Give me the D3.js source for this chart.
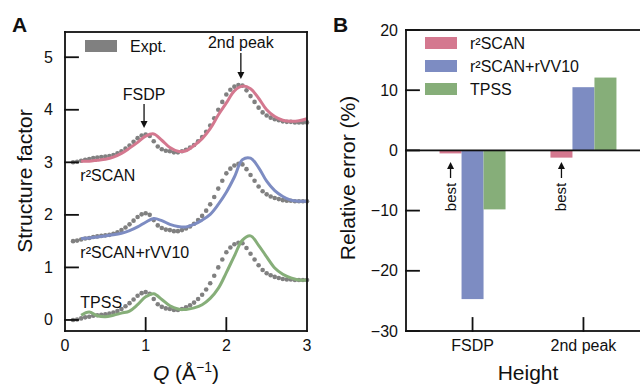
<!DOCTYPE html>
<html>
<head>
<meta charset="utf-8">
<script src="https://cdn.jsdelivr.net/npm/d3@7"></script>
</head>
<body style="margin:0">
<div id="chart"></div>
<script>
// panel A: structure factor S(Q), curves are shifted by offsets
var exptQ = [0.10,0.15,0.20,0.25,0.30,0.35,0.40,0.45,0.50,0.55,0.60,0.65,0.70,0.75,0.80,0.85,0.90,0.95,1.00,1.05,
  1.10,1.15,1.20,1.25,1.30,1.35,1.40,1.45,1.50,1.55,1.60,1.65,1.70,1.75,1.80,1.85,1.90,1.95,2.00,2.05,
  2.10,2.15,2.20,2.25,2.30,2.35,2.40,2.45,2.50,2.55,2.60,2.65,2.70,2.75,2.80,2.85,2.90,2.95,3.00];
var exptS = [0.00,0.01,0.03,0.05,0.06,0.08,0.09,0.10,0.11,0.12,0.14,0.17,0.21,0.26,0.32,0.39,0.46,0.51,0.53,0.50,
  0.40,0.30,0.25,0.22,0.21,0.19,0.19,0.21,0.24,0.28,0.33,0.40,0.48,0.58,0.70,0.84,1.00,1.15,1.29,1.38,
  1.44,1.47,1.46,1.37,1.26,1.15,1.04,0.95,0.89,0.85,0.82,0.80,0.78,0.77,0.77,0.76,0.76,0.76,0.76];

var modelQ = [0.2,0.3,0.4,0.5,0.6,0.7,0.8,0.9,1.0,1.1,1.2,1.3,1.4,1.5,1.6,1.7,1.8,1.9,2.0,2.1,2.2,2.3,2.4,2.5,2.6,2.7,2.8,2.9,3.0];
var r2scanS = [0.02,0.02,0.04,0.06,0.10,0.17,0.27,0.38,0.50,0.54,0.42,0.28,0.21,0.22,0.32,0.45,0.64,0.90,1.13,1.36,1.45,1.40,1.22,1.00,0.87,0.80,0.78,0.79,0.83];
var rvv10S = [0.05,0.06,0.08,0.10,0.12,0.15,0.20,0.27,0.36,0.43,0.39,0.32,0.28,0.27,0.32,0.40,0.51,0.70,0.93,1.22,1.55,1.58,1.40,1.14,0.96,0.85,0.78,0.76,0.76];
var tpssS = [0.09,0.15,0.08,0.06,0.09,0.13,0.17,0.29,0.44,0.50,0.39,0.27,0.21,0.20,0.23,0.29,0.41,0.60,0.90,1.22,1.52,1.60,1.42,1.20,0.99,0.87,0.80,0.76,0.76];

var methods = ['r\u00b2SCAN', 'r\u00b2SCAN+rVV10', 'TPSS'];
var offsets = [3, 1.5, 0];
var colors = ['#d4788f', '#7d8cc2', '#86ae79'];

// panel B: relative error of peak heights (%)
var heightCats = ['FSDP', '2nd peak'];
var errR2scan = [-0.5, -1.2];
var errRvv10 = [-24.7, 10.5];
var errTpss = [-9.8, 12.1];

var ink = '#111';
var font = 'Liberation Sans, Arial, sans-serif';

var svg = d3.select('#chart').append('svg')
  .attr('width', 640)
  .attr('height', 386)
  .attr('font-family', font);

// axis-aligned rules drawn as thin filled rects
function rule(x1, y1, x2, y2, w) {
  w = w || 1.8;
  var x = Math.min(x1, x2), y = Math.min(y1, y2);
  var horiz = y1 === y2;
  svg.append('rect')
    .attr('x', horiz ? x - w / 2 : x - w / 2)
    .attr('y', horiz ? y - w / 2 : y - w / 2)
    .attr('width', horiz ? Math.abs(x2 - x1) + w : w)
    .attr('height', horiz ? w : Math.abs(y2 - y1) + w)
    .attr('fill', ink);
}

// vertical arrow with a small filled head at (x, yTip)
function arrow(x, yFrom, yTip) {
  var dir = yTip > yFrom ? 1 : -1;
  svg.append('path')
    .attr('d', 'M' + x + ',' + yFrom + 'L' + x + ',' + (yTip - dir * 5))
    .attr('stroke', ink)
    .attr('stroke-width', 1.3);
  svg.append('path')
    .attr('d', 'M' + (x - 3.5) + ',' + (yTip - dir * 7) + 'L' + x + ',' + yTip + 'L' + (x + 3.5) + ',' + (yTip - dir * 7) + 'Z')
    .attr('fill', ink);
}

// ---------- panel A ----------
var xA = d3.scaleLinear().domain([0, 3]).range([65, 307]);
var yA = d3.scaleLinear().domain([-0.21, 5.48]).range([331, 32]);
var yTicksA = [0, 1, 2, 3, 4, 5];
var xTicksA = [0, 1, 2, 3];

var lineA = d3.line()
  .x(d => xA(d[0]))
  .y(d => yA(d[1]))
  .curve(d3.curveCatmullRom);

[r2scanS, rvv10S, tpssS].forEach(function(s, i) {
  var off = offsets[i];
  svg.append('g')
    .attr('fill', '#808080')
    .selectAll('circle')
    .data(exptQ.map((q, j) => [q, exptS[j] + off]))
    .enter().append('circle')
    .attr('cx', d => xA(d[0]))
    .attr('cy', d => yA(d[1]))
    .attr('r', 2.3);

  svg.append('path')
    .datum(modelQ.map((q, j) => [q, s[j] + off]))
    .attr('d', lineA)
    .attr('fill', 'none')
    .attr('stroke', colors[i])
    .attr('stroke-width', 3)
    .attr('stroke-linejoin', 'round');
});

svg.append('g').selectAll('text')
  .data(yTicksA)
  .enter().append('text')
  .attr('x', 53).attr('y', d => yA(d) + 5.5)
  .attr('text-anchor', 'end')
  .attr('font-size', 16).attr('fill', ink)
  .text(d => d);
svg.append('g').selectAll('text')
  .data(xTicksA)
  .enter().append('text')
  .attr('x', d => xA(d)).attr('y', 351)
  .attr('text-anchor', 'middle')
  .attr('font-size', 16).attr('fill', ink)
  .text(d => d);

yTicksA.forEach(d => rule(65, yA(d), 78, yA(d)));
xTicksA.slice(1, 3).forEach(d => rule(xA(d), 318, xA(d), 331));
rule(65, 32, 307, 32);
rule(65, 331, 307, 331);
rule(65, 32, 65, 331);
rule(307, 32, 307, 331);

// method labels
var labelPos = [[0.19, 181], [0.19, 258], [0.19, 308]];
methods.forEach(function(m, i) {
  svg.append('text')
    .attr('x', xA(labelPos[i][0]))
    .attr('y', labelPos[i][1])
    .attr('font-size', 16)
    .attr('fill', ink)
    .text(m);
});

// legend for experiment
svg.append('rect').attr('x', 85).attr('y', 40).attr('width', 32).attr('height', 12).attr('fill', '#808080');
svg.append('text').attr('x', 130).attr('y', 52).attr('font-size', 16).attr('fill', ink).text('Expt.');

// peak annotations
[['FSDP', 0.98, 100, 104, 128], ['2nd peak', 2.18, 48, 53, 79]].forEach(function(a) {
  svg.append('text')
    .attr('x', xA(a[1])).attr('y', a[2])
    .attr('text-anchor', 'middle')
    .attr('font-size', 16)
    .attr('fill', ink)
    .text(a[0]);
  arrow(xA(a[1]), a[3], a[4]);
});

svg.append('text')
  .attr('transform', 'translate(32,181) rotate(-90)')
  .attr('text-anchor', 'middle')
  .attr('font-size', 21)
  .attr('fill', ink)
  .text('Structure factor');

var qLabel = svg.append('text')
  .attr('x', 186).attr('y', 380)
  .attr('text-anchor', 'middle')
  .attr('font-size', 21)
  .attr('fill', ink);
qLabel.append('tspan').attr('font-style', 'italic').text('Q');
qLabel.append('tspan').text(' (\u00c5');
qLabel.append('tspan').attr('font-size', 14).attr('dy', -8).text('\u22121');
qLabel.append('tspan').attr('dy', 8).text(')');

svg.append('text').attr('x', 12).attr('y', 32).attr('font-size', 21).attr('font-weight', 'bold').attr('fill', ink).text('A');

// ---------- panel B ----------
var xB = d3.scaleLinear().domain([-0.6, 1.6]).range([406, 650]);
var yB = d3.scaleLinear().domain([-30, 20]).range([331, 30]);
var yTicksB = [-30, -20, -10, 0, 10, 20];
var barW = 22;

[errR2scan, errRvv10, errTpss].forEach(function(vals, i) {
  svg.append('g')
    .attr('fill', colors[i])
    .selectAll('rect')
    .data(vals)
    .enter().append('rect')
    .attr('x', (d, j) => xB(j) + (i - 1.5) * barW)
    .attr('width', barW)
    .attr('y', d => yB(Math.max(0, d)))
    .attr('height', d => Math.abs(yB(d) - yB(0)));
});

svg.append('g').selectAll('text')
  .data(yTicksB)
  .enter().append('text')
  .attr('x', 398).attr('y', d => yB(d) + 5.5)
  .attr('text-anchor', 'end')
  .attr('font-size', 16).attr('fill', ink)
  .text(d => d < 0 ? '\u2212' + (-d) : d);
svg.append('g').selectAll('text')
  .data(heightCats)
  .enter().append('text')
  .attr('x', (d, i) => xB(i)).attr('y', 351)
  .attr('text-anchor', 'middle')
  .attr('font-size', 16).attr('fill', ink)
  .text(d => d);

yTicksB.forEach(d => rule(406, yB(d), 419, yB(d)));
heightCats.forEach((d, i) => rule(xB(i), 318, xB(i), 331));
rule(406, yB(0), 650, yB(0));
rule(406, 30, 650, 30);
rule(406, 331, 650, 331);
rule(406, 30, 406, 331);

// legend
methods.forEach(function(m, i) {
  svg.append('rect')
    .attr('x', 425).attr('y', 37 + i * 23)
    .attr('width', 32).attr('height', 12)
    .attr('fill', colors[i]);
  svg.append('text')
    .attr('x', 470).attr('y', 49 + i * 23)
    .attr('font-size', 16)
    .attr('fill', ink)
    .text(m);
});

// "best" markers under the r2SCAN bars
heightCats.forEach(function(c, j) {
  var bx = xB(j) - barW;
  arrow(bx, 178, 162);
  svg.append('text')
    .attr('transform', 'translate(' + (bx + 5) + ',197) rotate(-90)')
    .attr('text-anchor', 'middle')
    .attr('font-size', 15)
    .attr('fill', ink)
    .text('best');
});

svg.append('text')
  .attr('transform', 'translate(355,178) rotate(-90)')
  .attr('text-anchor', 'middle')
  .attr('font-size', 21)
  .attr('fill', ink)
  .text('Relative error (%)');

svg.append('text')
  .attr('x', 528).attr('y', 380)
  .attr('text-anchor', 'middle')
  .attr('font-size', 21)
  .attr('fill', ink)
  .text('Height');

svg.append('text').attr('x', 333).attr('y', 32).attr('font-size', 21).attr('font-weight', 'bold').attr('fill', ink).text('B');
</script>
</body>
</html>
